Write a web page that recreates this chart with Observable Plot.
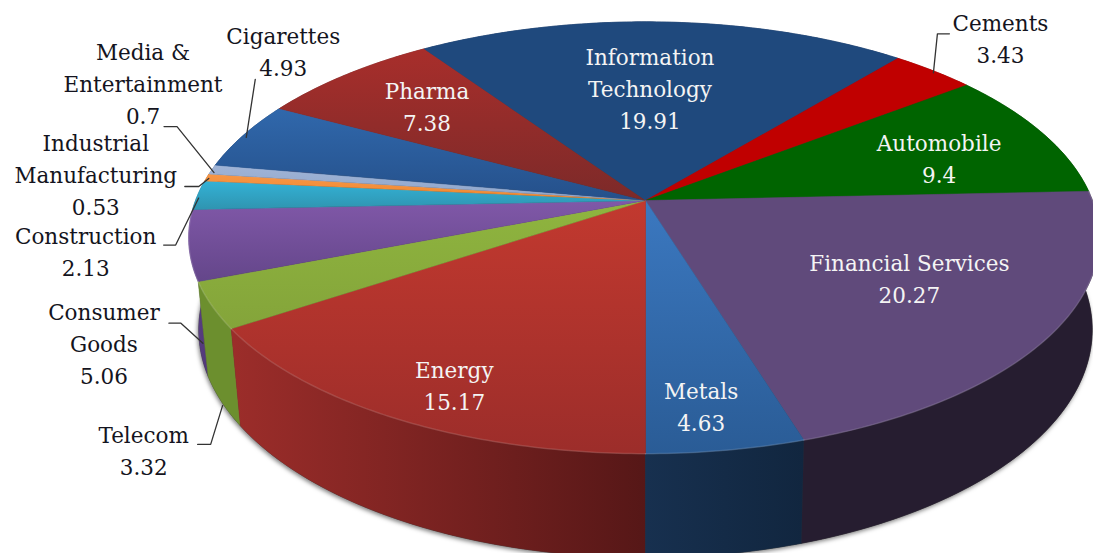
<!DOCTYPE html>
<html><head><meta charset="utf-8">
<script src="https://cdn.jsdelivr.net/npm/d3@7"></script>
<script src="https://cdn.jsdelivr.net/npm/@observablehq/plot@0.6"></script>
<style>html,body{margin:0;padding:0;background:#fff;overflow:hidden}svg{display:block}</style>
</head><body><div id="chart"></div>
<script>
const sectors = ["Information\nTechnology","Cements","Automobile","Financial Services","Metals","Energy","Telecom","Consumer\nGoods","Construction","Industrial\nManufacturing","Media &\nEntertainment","Cigarettes","Pharma"];
const values = [19.91,3.43,9.4,20.27,4.63,15.17,3.32,5.06,2.13,0.53,0.7,4.93,7.38];
const topStart = ["#1f497d","#c00000","#006400","#604a7b","#3b78c0","#c2392f","#8fb53f","#8058a8","#33b2d6","#f79646","#a0b4d6","#3068ac","#a82e2b"];
const topEnd   = ["#1f497d","#c00000","#006400","#604a7b","#2a5c96","#9c2d2a","#84a43a","#64468a","#2f94b0","#f0882e","#8ea5ca","#25508a","#7c2a29"];
const sideStart= ["#14305a","#800000","#004000","#261d30","#17304f","#9c2d2a","#6c8f2e","#5f4288","#206f88","#a86020","#6a7a98","#1c3f6c","#6a1f1f"];
const sideEnd  = ["#14305a","#800000","#004000","#261d30","#11263f","#561717","#6c8f2e","#503878","#206f88","#a86020","#6a7a98","#1c3f6c","#6a1f1f"];
const lightText = [true,false,true,true,true,true,false,false,false,false,false,false,true];
const labelOffset = [[-14,67],[67,-32],[-103,26],[-142,-55],[-25,-43],[59.5,-32],[-68,146],[-85,99],[-112,57],[-111,-2],[-69,-85],[40,-83],[81,33]];
const leaderOffset = [null,[[0,2],[4,-37],[16,-37]],null,null,null,null,[[11,100],[-1,139],[-14,139]],[[14,98],[-8,78],[-20,78]],[[1,3],[-22,50],[-34,50]],[[2,1],[-8,9],[-22,9]],[[2,3],[-35,-43],[-48,-43]],[[3,2],[12,-56]],null];

const W = 1093, H = 553, total = d3.sum(values);
const firstAngle = 180 - d3.sum(values.slice(0,5))/total*360;
const cx = 645, k = 0.1725;
const proj = (deg, ring) => {
  const t = deg*Math.PI/180, u = Math.sin(t), v = Math.cos(t), w = 1 + k*v;
  return ring === "top" ? [cx + (u>0?447:450)*u/w, 200 - 209.5*v/w] : [cx + 440*u/w, 290 - 221*v/w];
};
let acc = firstAngle;
const slices = values.map((val,i) => {
  const a0 = acc, a1 = acc + val/total*360; acc = a1;
  return {i, name: sectors[i], val, a0, a1, mid:(a0+a1)/2};
});
const arc = (a0,a1,ring) => {
  const n = Math.max(2, Math.ceil((a1-a0)/0.75));
  return d3.range(n+1).map(j => proj(a0+(a1-a0)*j/n, ring));
};
const topPoly = s => [[cx,200], ...arc(s.a0,s.a1,"top")];
const sidePoly = s => [...arc(s.a0,s.a1,"top"), ...arc(s.a0,s.a1,"bottom").reverse()];
const rim = s => proj(s.mid,"top");
const polyMark = (pts, fill, opts={}) => Plot.line(pts, {x:d=>d[0], y:d=>d[1], fill, stroke:fill, strokeWidth:0.5, curve:"linear", ...opts});
const sideOrdered = [...slices].sort((p,q)=>Math.cos(q.mid*Math.PI/180)-Math.cos(p.mid*Math.PI/180));
const frontSlices = slices.filter(s=>Math.cos(s.mid*Math.PI/180)<0);
const labelData = slices.map(s => {
  const r = rim(s), o = labelOffset[s.i];
  return {x:r[0]+o[0], y:r[1]+o[1], text:`${s.name}\n${s.val}`, light:lightText[s.i]};
});
const leaders = slices.filter(s=>leaderOffset[s.i]).flatMap(s => {
  const r = rim(s);
  return leaderOffset[s.i].map(o => ({x:r[0]+o[0], y:r[1]+o[1], id:s.i}));
});
const textStyle = {x:"x", y:"y", text:"text", fontSize:21.5, fontFamily:"DejaVu Serif", lineHeight:1.49, textAnchor:"middle", dy:-2.5};
const chart = Plot.plot({
  width:W, height:H, margin:0,
  x:{domain:[0,W], range:[0,W], axis:null},
  y:{domain:[0,H], range:[0,H], axis:null},
  marks:[
    // base ring carrying the one soft shadow
    polyMark(arc(0,360,"bottom"), "#333", {imageFilter:"drop-shadow(-1px 2px 2px rgba(0,0,0,0.5))"}),
    ...sideOrdered.map(s => polyMark(sidePoly(s), `url(#side${s.i})`)),
    ...slices.map(s => polyMark(topPoly(s), `url(#top${s.i})`)),
    // faint highlight along the front rim
    ...frontSlices.map(s => Plot.line(arc(s.a0,s.a1,"top"), {x:d=>d[0], y:d=>d[1], stroke:"#fff", strokeOpacity:0.13, strokeWidth:1.5, curve:"linear"})),
    Plot.line(leaders, {x:"x", y:"y", z:"id", stroke:"#333", strokeWidth:1.3, curve:"linear"}),
    Plot.text(labelData.filter(d=>d.light), {...textStyle, fill:"#f4f4f4"}),
    Plot.text(labelData.filter(d=>!d.light), {...textStyle, fill:"#141420"})
  ]
});
const defs = d3.select(chart).insert("defs",":first-child");
const grad = (id,c0,c1,vertical) => {
  const g = defs.append("linearGradient").attr("id",id).attr("x1",0).attr("y1",0).attr("x2",vertical?0:1).attr("y2",vertical?1:0);
  g.append("stop").attr("offset",0).attr("stop-color",c0);
  g.append("stop").attr("offset",1).attr("stop-color",c1);
};
slices.forEach(s => {
  grad(`top${s.i}`, topStart[s.i], topEnd[s.i], true);
  grad(`side${s.i}`, sideStart[s.i], sideEnd[s.i], false);
});
document.getElementById("chart").appendChild(chart);
</script></body></html>
